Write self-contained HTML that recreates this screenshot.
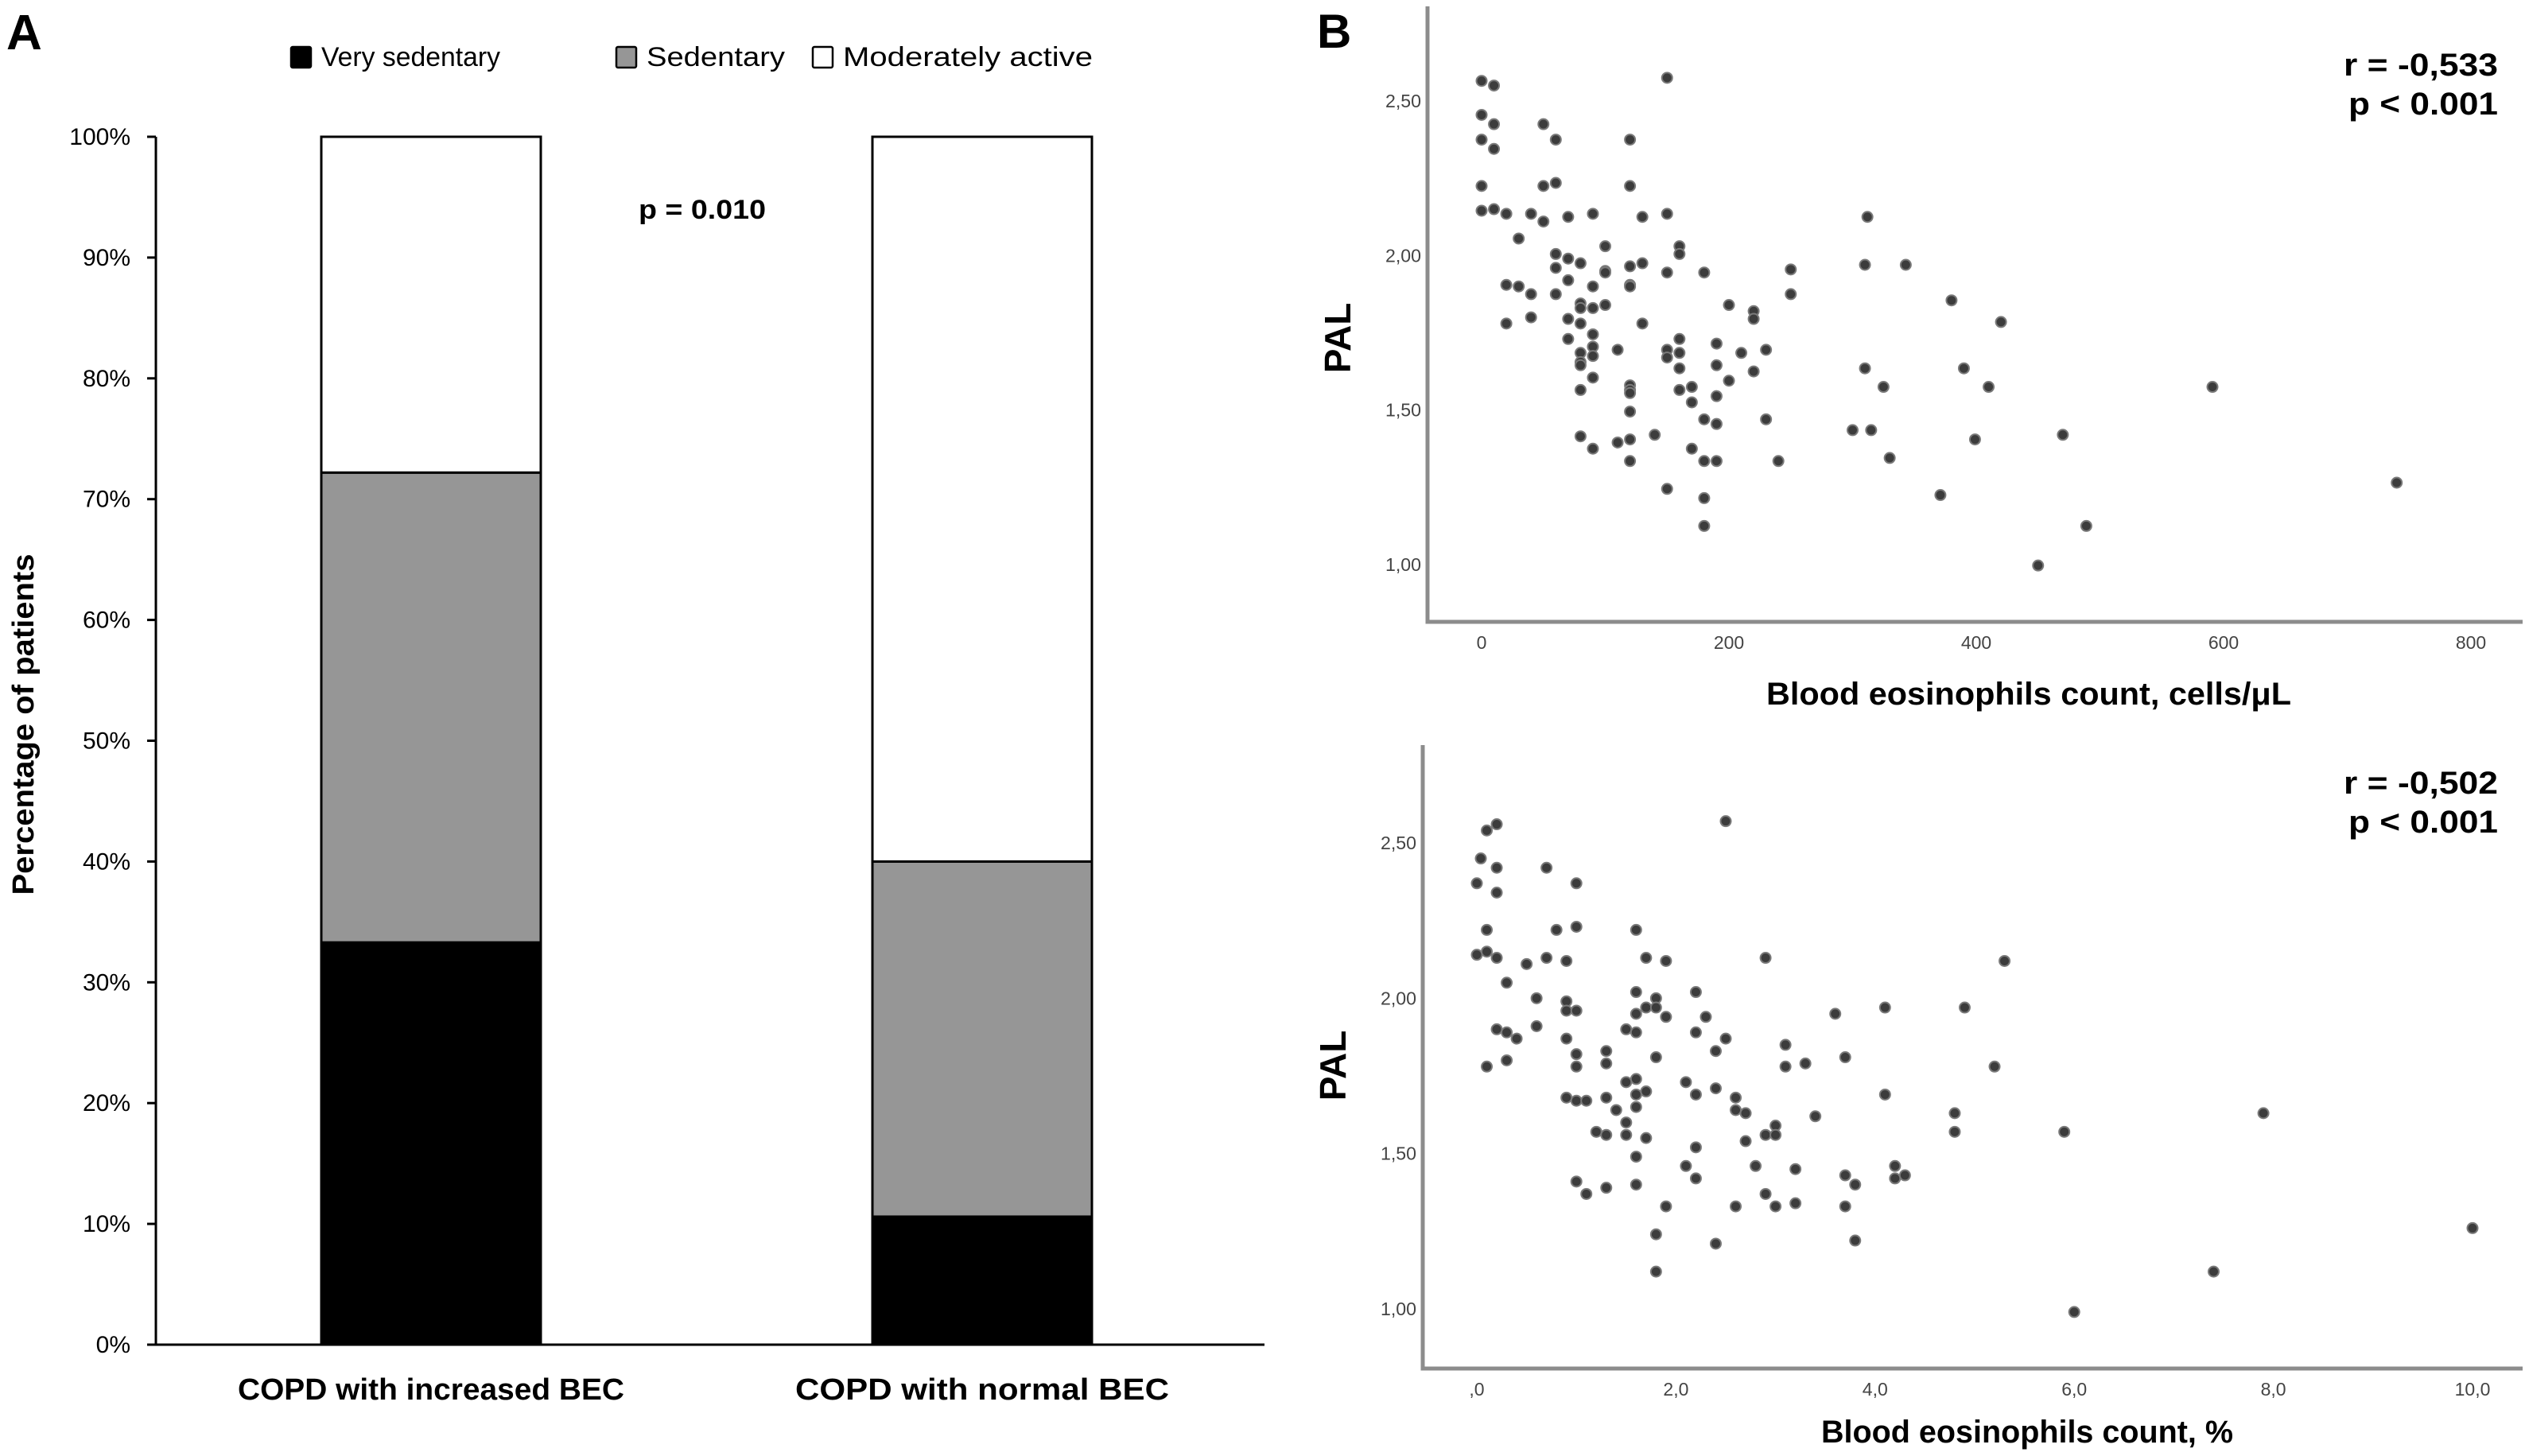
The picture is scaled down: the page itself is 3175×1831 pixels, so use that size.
<!DOCTYPE html>
<html><head><meta charset="utf-8"><style>
html,body{margin:0;padding:0;background:#fff;}
svg{display:block;}
text{font-family:"Liberation Sans",sans-serif;}
</style></head><body>
<svg id="fig" width="3175" height="1831" viewBox="0 0 3175 1831" xmlns="http://www.w3.org/2000/svg">
<rect width="3175" height="1831" fill="#fff"/>
<g id="panelA"></g>
<g id="panelB1"></g>
<g id="panelB2"></g>
</svg>
<script>
// Panel A data
const barCategories = ["COPD with increased BEC", "COPD with normal BEC"];
const verySedentary = [33.3, 10.6];
const sedentary = [38.9, 29.4];
const moderatelyActive = [27.8, 60.0];
const pctTicks = ["0%","10%","20%","30%","40%","50%","60%","70%","80%","90%","100%"];

// Panel B top data (cells/uL vs PAL)
const cellsX = [0,10,0,10,0,10,0,0,10,20,40,50,50,60,50,60,70,90,30,60,70,80,60,100,100,100,20,30,40,60,70,90,80,80,90,100,20,40,70,80,70,90,90,80,90,80,80,110,90,80,90,80,110,120,120,120,130,120,120,130,150,150,150,130,120,120,120,120,120,120,140,150,150,160,160,160,160,160,180,150,160,170,170,170,180,180,190,190,190,190,190,180,180,200,200,210,220,220,220,230,230,240,250,250,300,310,310,312,315,325,330,343,371,380,390,399,410,420,450,470,489,591,740];
const cellsPAL = [2.565,2.55,2.455,2.425,2.375,2.345,2.225,2.145,2.15,2.135,2.135,2.11,2.425,2.375,2.225,2.235,2.125,2.135,2.055,2.005,1.99,1.975,1.96,2.03,1.95,1.945,1.905,1.9,1.875,1.875,1.92,1.9,1.845,1.83,1.83,1.84,1.78,1.8,1.795,1.78,1.73,1.745,1.705,1.685,1.675,1.655,1.645,1.695,1.605,1.565,1.375,1.415,1.395,2.375,2.225,1.965,1.975,1.905,1.9,2.125,2.135,2.575,1.945,1.78,1.58,1.565,1.555,1.495,1.405,1.335,1.42,1.695,1.67,1.685,1.73,1.635,2.03,2.005,1.945,1.245,1.565,1.575,1.525,1.375,1.47,1.335,1.335,1.455,1.545,1.645,1.715,1.215,1.125,1.84,1.595,1.685,1.82,1.795,1.625,1.695,1.47,1.335,1.955,1.875,1.435,1.635,1.97,2.125,1.435,1.575,1.345,1.97,1.225,1.855,1.635,1.405,1.575,1.785,0.997,1.42,1.125,1.575,1.265];
const cellsXTicks = [0,200,400,600,800];
const palTicks = [1.0,1.5,2.0,2.5];

// Panel B bottom data (% vs PAL)
const pctX = [0,0.04,0.1,0.2,0.2,0.2,0.1,0,0.1,0.2,0.3,0.5,0.6,0.7,0.7,0.8,0.9,1.0,1.0,0.2,0.3,0.4,0.6,0.1,0.3,0.9,0.9,1.0,0.9,1.0,1.0,0.9,1.0,1.1,1.0,1.1,1.3,1.3,1.3,1.4,1.2,1.3,1.3,1.5,1.6,1.5,1.6,1.6,1.6,1.5,1.5,1.7,1.7,1.6,1.6,1.6,1.7,1.9,1.6,1.6,1.7,1.8,1.8,1.9,1.8,1.9,1.8,1.8,2.2,2.3,2.2,2.5,2.4,2.1,2.2,2.4,2.1,2.2,2.2,2.4,2.5,2.6,2.6,2.7,2.7,2.8,2.6,2.9,2.9,3.0,3.0,2.9,3.0,3.1,3.1,3.2,3.2,3.3,3.4,3.6,3.7,3.7,3.8,3.7,3.8,4.1,4.1,4.2,4.2,4.3,4.8,4.8,4.9,5.2,5.3,5.9,6.0,7.4,7.9,10.0];
const pctPAL = [2.37,2.45,2.54,2.56,2.42,2.34,2.22,2.14,2.15,2.13,2.05,2.11,2.0,2.42,2.13,2.22,2.12,2.37,2.23,1.9,1.89,1.87,1.91,1.78,1.80,1.99,1.96,1.96,1.87,1.82,1.78,1.68,1.67,1.67,1.41,1.37,1.83,1.79,1.68,1.64,1.57,1.56,1.39,1.9,1.89,1.73,1.74,1.69,1.65,1.60,1.56,1.70,1.55,1.49,1.40,2.22,2.13,2.12,2.02,1.95,1.97,2.00,1.97,1.94,1.81,1.33,1.24,1.12,2.02,1.94,1.89,1.87,1.83,1.73,1.69,1.71,1.46,1.52,1.42,1.21,2.57,1.68,1.64,1.63,1.54,1.46,1.33,2.13,1.56,1.59,1.56,1.37,1.33,1.85,1.78,1.45,1.34,1.79,1.62,1.95,1.81,1.43,1.40,1.33,1.22,1.97,1.69,1.46,1.42,1.43,1.63,1.57,1.97,1.78,2.12,1.57,0.99,1.12,1.63,1.26];
const pctXTicks = [",0","2,0","4,0","6,0","8,0","10,0"];
const pctXTickVals = [0,2,4,6,8,10];

const NS = "http://www.w3.org/2000/svg";
function mk(parent, tag, attrs, txt){
  const e = document.createElementNS(NS, tag);
  for (const k in attrs) e.setAttribute(k, attrs[k]);
  if (txt !== undefined) e.textContent = txt;
  parent.appendChild(e);
  return e;
}

// ---------- Panel A ----------
const A = document.getElementById('panelA');
const ay0 = 1691, ay1 = 172, ax0 = 196, axEnd = 1590;
const yA = v => ay0 - (v/100)*(ay0-ay1);
let t = mk(A,'text',{x:8,y:62,'font-size':62,'font-weight':'bold'},'A');
 
pctTicks.forEach((lab,i)=>{
  const v=i*10;
  let l = mk(A,'line',{x1:185,x2:ax0,y1:yA(v),y2:yA(v),stroke:'#000','stroke-width':3});
   
  let tx = mk(A,'text',{x:164,y:yA(v)+10,'font-size':30,'text-anchor':'end'},lab);
   
});
const barX = [404, 1097], barW = 276;
barCategories.forEach((c,i)=>{
  const segs=[[verySedentary[i],'#000'],[sedentary[i],'#969696'],[moderatelyActive[i],'#fff']];
  let acc=0;
  const names=['bar-very-sedentary','bar-sedentary','bar-moderately-active'];
  segs.forEach((s,j)=>{
    let r = mk(A,'rect',{x:barX[i],y:yA(acc+s[0]),width:barW,height:yA(acc)-yA(acc+s[0]),fill:s[1],stroke:'#000','stroke-width':3});
     
    acc+=s[0];
  });
  let tx = mk(A,'text',{x:barX[i]+barW/2,y:1760,'font-size':38,'font-weight':'bold','text-anchor':'middle',textLength:i==0?486:470,lengthAdjust:'spacingAndGlyphs'},c);
   
});
let ax = mk(A,'path',{d:`M${ax0} ${ay1} V${ay0} H${axEnd}`,fill:'none',stroke:'#000','stroke-width':3});
 
t = mk(A,'text',{x:0,y:0,'font-size':38,'font-weight':'bold','text-anchor':'middle',transform:'translate(42,911) rotate(-90)',textLength:429,lengthAdjust:'spacingAndGlyphs'},'Percentage of patients');
 
t = mk(A,'text',{x:883,y:275,'font-size':34,'font-weight':'bold','text-anchor':'middle',textLength:160,lengthAdjust:'spacingAndGlyphs'},'p = 0.010');
 
const leg = [[366,'#000','Very sedentary',225],[775,'#969696','Sedentary',174],[1022,'#fff','Moderately active',314]];
leg.forEach(L=>{
  let g = mk(A,'g',{});
   
  mk(g,'rect',{x:L[0],y:59,width:25,height:26,fill:L[1],stroke:'#000','stroke-width':2.5,rx:2});
  mk(g,'text',{x:L[0]+L[0]/L[0]*38,y:83,'font-size':34,textLength:L[3],lengthAdjust:'spacingAndGlyphs'},L[2]);
});

// ---------- Scatter panels ----------
function scatter(G, o){
  const xs = v => o.xPix0 + (v - o.xv0)/(o.xv1-o.xv0)*(o.xPix1-o.xPix0);
  const ys = v => o.yPix0 + (v - o.yv0)/(o.yv1-o.yv0)*(o.yPix1-o.yPix0);
  let a = mk(G,'path',{d:`M${o.axX} ${o.axTop} V${o.axBot} H3172`,fill:'none',stroke:'#8c8c8c','stroke-width':5});
   
  palTicks.forEach(v=>{
    let tx = mk(G,'text',{x:o.axX-8,y:ys(v)+8,'font-size':23,fill:'#444','text-anchor':'end',textLength:45,lengthAdjust:'spacingAndGlyphs'},v.toFixed(2).replace('.',','));
     
  });
  o.xTickVals.forEach((v,i)=>{
    let tx = mk(G,'text',{x:xs(v),y:o.axBot+34,'font-size':23,fill:'#444','text-anchor':'middle'},o.xTickLabels[i]);
     
  });
  o.xData.forEach((v,i)=>{
    let c = mk(G,'circle',{cx:xs(v),cy:ys(o.yData[i]),r:6.5,fill:'#3c3c3c',stroke:'#7a7a7a','stroke-width':2});
     
  });
  let tx = mk(G,'text',{x:0,y:0,'font-size':46,'font-weight':'bold','text-anchor':'middle',transform:`translate(${o.axX-97},${o.palY}) rotate(-90)`},'PAL');
   
  tx = mk(G,'text',{x:o.titleX,y:o.titleY,'font-size':40,'font-weight':'bold','text-anchor':'middle',textLength:o.titleW,lengthAdjust:'spacingAndGlyphs'},o.title);
   
  tx = mk(G,'text',{x:3141,y:o.rY,'font-size':40,'font-weight':'bold','text-anchor':'end',textLength:194,lengthAdjust:'spacingAndGlyphs'},o.rText);
   
  tx = mk(G,'text',{x:3141,y:o.rY+49,'font-size':40,'font-weight':'bold','text-anchor':'end',textLength:188,lengthAdjust:'spacingAndGlyphs'},'p < 0.001');
   
}
const B1 = document.getElementById('panelB1');
t = mk(B1,'text',{x:1656,y:60,'font-size':60,'font-weight':'bold'},'B');
 
scatter(B1,{xPix0:1863,xPix1:3107,xv0:0,xv1:800,yPix0:127,yPix1:710,yv0:2.5,yv1:1.0,
  axX:1795,axTop:8,axBot:782,xTickVals:cellsXTicks,xTickLabels:cellsXTicks.map(String),
  xData:cellsX,yData:cellsPAL,palY:425,title:'Blood eosinophils count, cells/μL',titleX:2551,titleY:886,titleW:660,rText:'r = -0,533',rY:95});
const B2 = document.getElementById('panelB2');
scatter(B2,{xPix0:1857,xPix1:3109,xv0:0,xv1:10,yPix0:1060,yPix1:1646,yv0:2.5,yv1:1.0,
  axX:1789,axTop:937,axBot:1721,xTickVals:pctXTickVals,xTickLabels:pctXTicks,
  xData:pctX,yData:pctPAL,palY:1340,title:'Blood eosinophils count, %',titleX:2549,titleY:1814,titleW:518,rText:'r = -0,502',rY:998});
</script>
</body></html>
